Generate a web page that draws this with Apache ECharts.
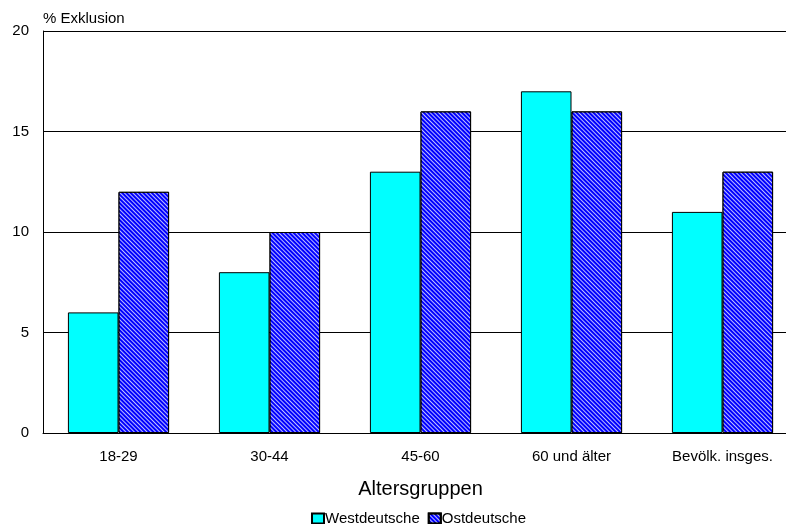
<!DOCTYPE html>
<html>
<head>
<meta charset="utf-8">
<script src="https://cdn.jsdelivr.net/npm/echarts@6/dist/echarts.min.js"></script>
<style>
html,body{margin:0;padding:0;background:#fff;}
#chart{width:786px;height:524px;}
</style>
</head>
<body>
<div id="chart"></div>
<script>
// Exclusion rate by age group, West vs East Germans
const categories = ['18-29', '30-44', '45-60', '60 und älter', 'Bevölk. insges.'];
const westValues = [6, 8, 13, 17, 11];
const ostValues = [12, 10, 16, 16, 13];
const yTicks = [0, 5, 10, 15, 20];

// fine diagonal hatch used for the East German bars
const hatchDecal = {
  symbol: 'rect',
  symbolSize: 1,
  dashArrayX: [1, 0],
  dashArrayY: [1, 2],
  rotation: Math.PI / 4,
  color: 'rgba(255,255,255,0.75)'
};

const font = 'Liberation Sans, Arial, sans-serif';
const chart = echarts.init(document.getElementById('chart'), null, { renderer: 'canvas' });
chart.setOption({
  animation: false,
  textStyle: { fontFamily: font },
  grid: { left: 43, width: 755, top: 31, bottom: 91, outerBoundsMode: 'none', containLabel: false },
  legend: {
    bottom: -7,
    left: 306,
    itemWidth: 12,
    itemHeight: 10,
    itemGap: 8,
    icon: 'rect',
    textStyle: { fontSize: 15, color: '#000', padding: [0, 0, 0, -4] },
    data: ['Westdeutsche', 'Ostdeutsche']
  },
  xAxis: {
    type: 'category',
    data: categories,
    name: 'Altersgruppen',
    nameLocation: 'middle',
    nameGap: 46,
    nameTextStyle: { fontSize: 20, color: '#000' },
    axisLine: { lineStyle: { color: '#000', width: 1 } },
    axisTick: { show: false },
    axisLabel: { fontSize: 15, color: '#000', margin: 16 }
  },
  yAxis: {
    type: 'value',
    min: yTicks[0],
    max: yTicks[yTicks.length - 1],
    interval: 5,
    name: '% Exklusion',
    nameLocation: 'end',
    nameGap: 5,
    nameTextStyle: { fontSize: 15, color: '#000', align: 'left' },
    axisLine: { show: true, lineStyle: { color: '#000' } },
    axisTick: { show: false },
    axisLabel: { fontSize: 15, color: '#000', margin: 14 },
    splitLine: { show: true, lineStyle: { color: '#000', width: 1 } }
  },
  series: [
    {
      name: 'Westdeutsche',
      type: 'bar',
      data: westValues,
      barGap: '0%',
      barCategoryGap: '33%',
      itemStyle: { color: '#00ffff', borderColor: '#000', borderWidth: 1 }
    },
    {
      name: 'Ostdeutsche',
      type: 'bar',
      data: ostValues,
      itemStyle: { color: '#0000ff', borderColor: '#000', borderWidth: 1, decal: hatchDecal }
    }
  ]
});
</script>
</body>
</html>
